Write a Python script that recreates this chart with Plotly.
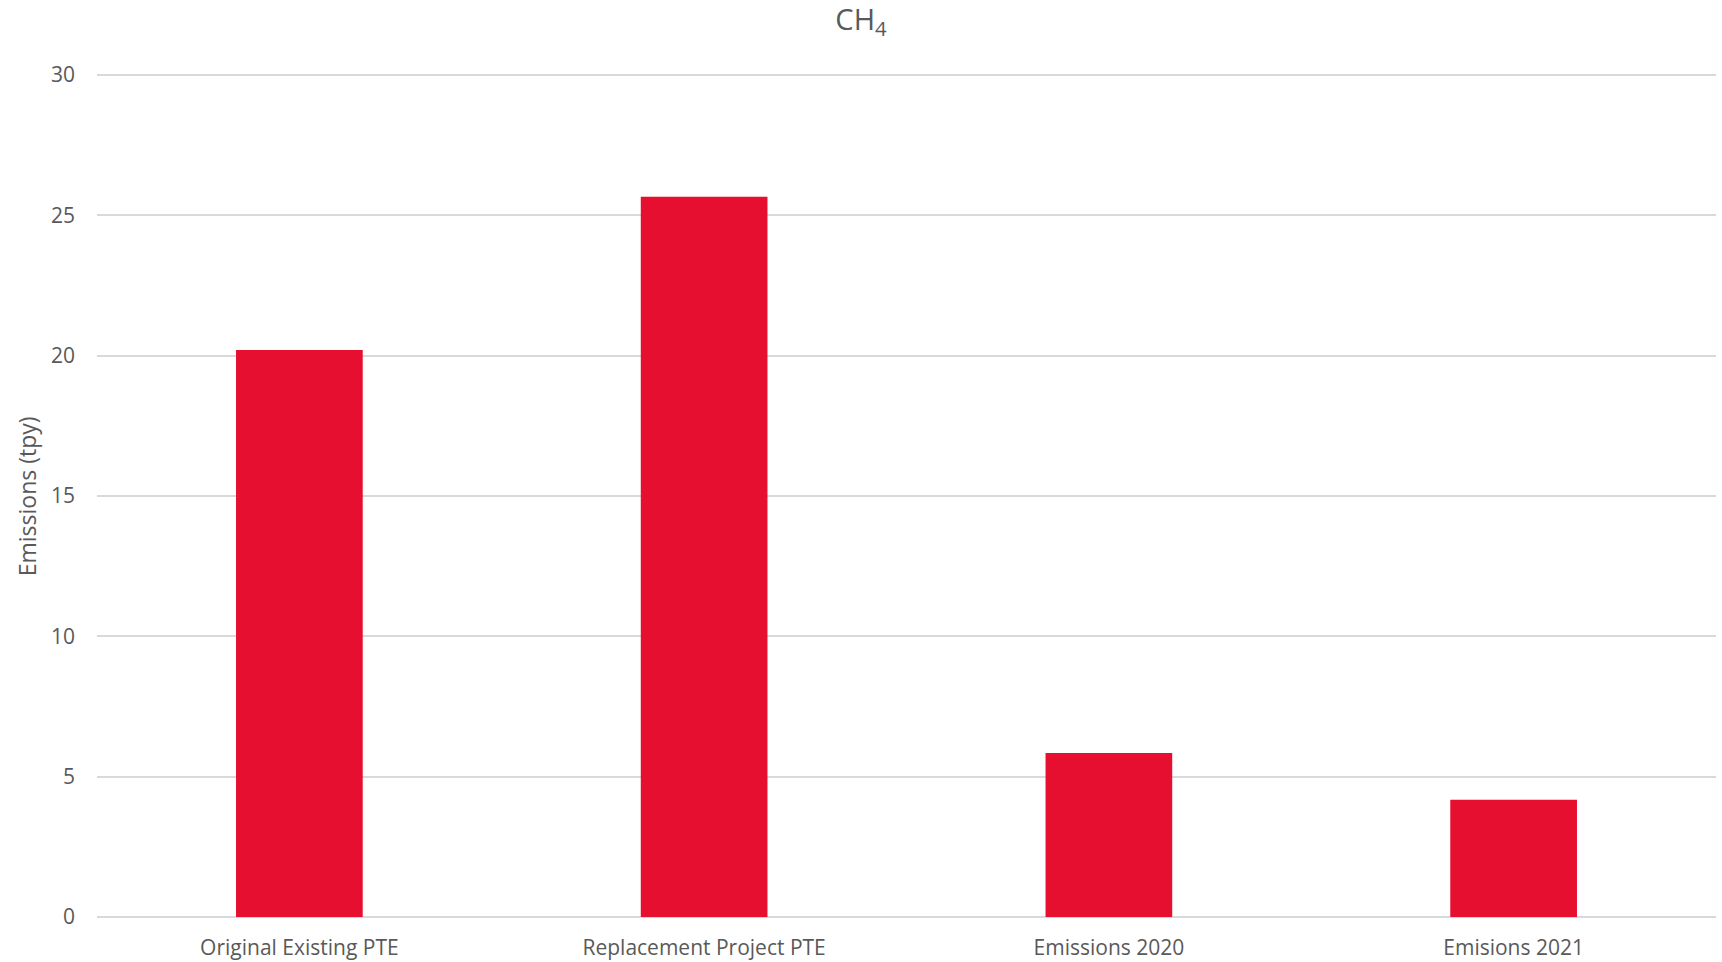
import plotly.graph_objects as go

categories = ["Original Existing PTE", "Replacement Project PTE", "Emissions 2020", "Emisions 2021"]
values = [20.2, 25.66, 5.84, 4.18]
y_ticks = [0, 5, 10, 15, 20, 25, 30]

W, H = 1722, 962
ML, MR, MT, MB = 97, 6, 72, 45

TXT = "#595959"
FONT = "Open Sans"

fig = go.Figure(go.Bar(
    x=categories, y=values,
    marker=dict(color="#E70F2F", line=dict(width=0)),
    width=0.313,
))

fig.update_layout(
    width=W, height=H,
    margin=dict(l=ML, r=MR, t=MT, b=MB, autoexpand=False),
    paper_bgcolor="white", plot_bgcolor="white",
    font=dict(family=FONT, color=TXT, size=21),
    showlegend=False,
    title=dict(text="CH<sub>4</sub>", x=0.5, xref="container", xanchor="center",
               y=1 - 20 / H, yref="container", yanchor="middle",
               font=dict(family=FONT, size=29, color=TXT)),
    xaxis=dict(range=[-0.5, 3.5], showgrid=False, showline=False, zeroline=False,
               ticks="", tickfont=dict(size=21, color=TXT), ticklabelstandoff=16,
               fixedrange=True),
    yaxis=dict(range=[0, 30.107], tickvals=y_ticks, showgrid=True, gridcolor="#D9D9D9",
               gridwidth=1.5, zeroline=True, zerolinecolor="#D9D9D9", zerolinewidth=1.5,
               showline=False, ticks="", tickfont=dict(size=21, color=TXT),
               ticklabelstandoff=21, fixedrange=True),
    annotations=[dict(text="Emissions (tpy)", textangle=-90, xref="paper", yref="paper",
                      x=(27 - ML) / (W - ML - MR), y=(916.7 - 496) / (H - MT - MB),
                      xanchor="center", yanchor="middle",
                      showarrow=False, font=dict(family=FONT, size=23, color=TXT))],
)

fig.write_html("out.html", post_script="document.body.style.margin='0';",
               config={"displayModeBar": False})
